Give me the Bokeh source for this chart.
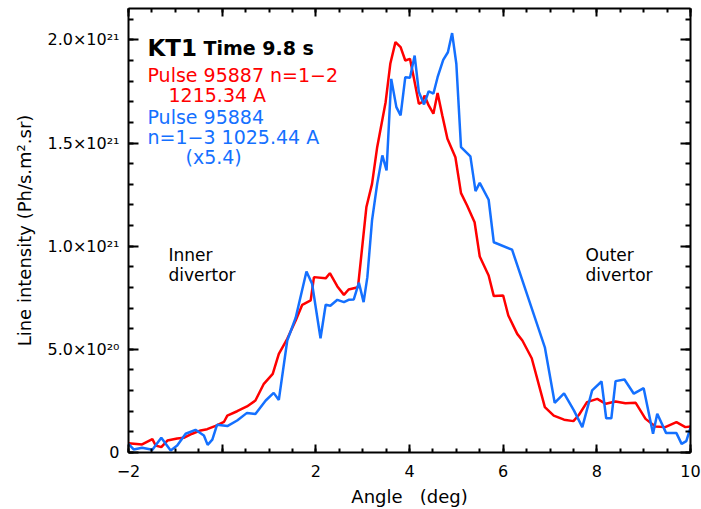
import numpy as np
from bokeh.plotting import figure
from bokeh.models import Range1d, FixedTicker, LinearAxis, Label, ColumnDataSource
from bokeh.embed import file_html
from bokeh.resources import INLINE

# ---- data (angle in deg, intensity in units of 1e21 Ph/s.m2.sr) ----
angle_red = [-2.00, -1.71, -1.49, -1.42, -1.30, -1.17, -0.96, -0.82, -0.64, -0.46,
             -0.32, -0.14, 0.04, 0.11, 0.32, 0.53, 0.71, 0.89, 1.08, 1.21,
             1.39, 1.57, 1.71, 1.89, 1.96, 2.21, 2.30, 2.46, 2.60, 2.70,
             2.90, 3.08, 3.20, 3.31, 3.49, 3.59, 3.70, 3.81, 3.91, 4.01,
             4.09, 4.20, 4.27, 4.32, 4.41, 4.51, 4.60, 4.70, 4.81, 4.98,
             5.10, 5.23, 5.39, 5.50, 5.69, 5.80, 6.00, 6.11, 6.30, 6.41,
             6.61, 6.89, 7.08, 7.30, 7.50, 7.62, 7.79, 8.01, 8.19, 8.40,
             8.61, 8.83, 9.04, 9.25, 9.46, 9.70, 9.89, 10.0]
intensity_red = [0.045, 0.039, 0.065, 0.034, 0.026, 0.058, 0.068, 0.071, 0.091, 0.107,
                 0.113, 0.129, 0.149, 0.179, 0.200, 0.223, 0.252, 0.333, 0.381, 0.478,
                 0.551, 0.640, 0.716, 0.737, 0.850, 0.844, 0.869, 0.805, 0.764, 0.790,
                 0.801, 1.190, 1.302, 1.480, 1.698, 1.884, 1.989, 1.965, 1.900, 1.908,
                 1.819, 1.690, 1.698, 1.730, 1.682, 1.642, 1.742, 1.634, 1.521, 1.431,
                 1.257, 1.197, 1.116, 0.950, 0.858, 0.758, 0.761, 0.664, 0.575, 0.543,
                 0.457, 0.220, 0.179, 0.159, 0.152, 0.183, 0.244, 0.260, 0.236, 0.247,
                 0.239, 0.241, 0.163, 0.126, 0.123, 0.147, 0.123, 0.126]

angle_blue = [-2.00, -1.89, -1.71, -1.49, -1.30, -1.10, -0.96, -0.78, -0.57, -0.39,
              -0.31, -0.21, -0.11, 0.11, 0.32, 0.53, 0.71, 0.93, 1.10, 1.21,
              1.39, 1.57, 1.80, 1.92, 2.10, 2.21, 2.31, 2.46, 2.60, 2.70,
              2.81, 2.92, 3.02, 3.10, 3.20, 3.31, 3.42, 3.51, 3.61, 3.72,
              3.81, 3.91, 4.01, 4.11, 4.20, 4.31, 4.41, 4.51, 4.60, 4.72,
              4.82, 4.91, 5.00, 5.10, 5.30, 5.41, 5.50, 5.69, 5.80, 6.19,
              6.89, 7.10, 7.30, 7.51, 7.69, 7.90, 8.10, 8.20, 8.31, 8.40,
              8.59, 8.79, 9.00, 9.20, 9.29, 9.48, 9.70, 9.81, 9.91, 10.0]
intensity_blue = [0.042, 0.015, 0.023, 0.013, 0.071, 0.010, 0.034, 0.091, 0.110, 0.082,
                  0.037, 0.062, 0.134, 0.128, 0.155, 0.192, 0.187, 0.252, 0.289, 0.255,
                  0.543, 0.653, 0.877, 0.818, 0.554, 0.716, 0.711, 0.740, 0.729, 0.740,
                  0.742, 0.823, 0.729, 0.850, 1.125, 1.302, 1.440, 1.367, 1.811, 1.674,
                  1.634, 1.819, 1.816, 1.924, 1.747, 1.687, 1.751, 1.739, 1.819, 1.903,
                  1.940, 2.033, 1.884, 1.480, 1.435, 1.267, 1.307, 1.225, 1.019, 0.983,
                  0.510, 0.241, 0.287, 0.204, 0.123, 0.301, 0.344, 0.166, 0.166, 0.346,
                  0.354, 0.285, 0.312, 0.091, 0.188, 0.094, 0.094, 0.042, 0.055, 0.120]

x_ticks = [-2, 0, 2, 4, 6, 8, 10]
x_tick_labels = ["\u22122", "", "2", "4", "6", "8", "10"]
y_ticks = [0.0, 5e20, 1e21, 1.5e21, 2e21]
y_tick_labels = ["0", "5.0\u00d710\u00b2\u2070", "1.0\u00d710\u00b2\u00b9",
                 "1.5\u00d710\u00b2\u00b9", "2.0\u00d710\u00b2\u00b9"]

SCALE = 1e21
RED = "#FF0000"
BLUE = "#1470FF"
FONT = "DejaVu Sans"

src_red = ColumnDataSource(dict(x=angle_red, y=[v * SCALE for v in intensity_red]))
src_blue = ColumnDataSource(dict(x=angle_blue, y=[v * SCALE for v in intensity_blue]))

p = figure(width=701, height=509, output_backend="svg", toolbar_location=None,
           x_range=Range1d(-2, 10), y_range=Range1d(0, 2.152e21),
           x_axis_type=None, y_axis_type=None,
           min_border_left=128, min_border_right=11, min_border_top=8, min_border_bottom=57)
p.outline_line_color = None
p.grid.visible = False
p.background_fill_color = "white"
p.border_fill_color = "white"

x_minor = list(np.arange(-2, 10.001, 0.5))
y_minor = list(np.arange(0, 2.15e21, 1e20))


def make_axis(ticks, minor, labels, major_in, minor_in, show_labels):
    ax = LinearAxis(ticker=FixedTicker(ticks=ticks, minor_ticks=minor))
    ax.axis_line_width = 2
    ax.axis_line_color = "black"
    ax.major_tick_in = major_in
    ax.major_tick_out = 0
    ax.minor_tick_in = minor_in
    ax.minor_tick_out = 0
    ax.major_tick_line_width = 2
    ax.minor_tick_line_width = 2
    ax.major_tick_line_color = "black"
    ax.minor_tick_line_color = "black"
    if show_labels:
        ax.major_label_overrides = {t: l for t, l in zip(ticks, labels)}
        ax.major_label_text_font = FONT
        ax.major_label_text_font_size = "16px"
        ax.major_label_text_color = "black"
    else:
        ax.major_label_overrides = {t: "" for t in ticks}
        ax.major_label_text_font_size = "0px"
        ax.major_label_standoff = 0
    return ax


bottom = make_axis(x_ticks, x_minor, x_tick_labels, 8, 4, True)
bottom.major_label_standoff = 12
bottom.axis_label = "Angle\u00a0\u00a0 (deg)"
bottom.axis_label_text_font = FONT
bottom.axis_label_text_font_size = "18px"
bottom.axis_label_text_font_style = "normal"
bottom.axis_label_text_color = "black"
bottom.axis_label_standoff = 6
p.add_layout(bottom, "below")

top = make_axis(x_ticks, x_minor, x_tick_labels, 8, 4, False)
p.add_layout(top, "above")

left = make_axis(y_ticks, y_minor, y_tick_labels, 10, 5, True)
left.major_label_standoff = 9
left.axis_label = "Line intensity (Ph/s.m\u00b2.sr)"
left.axis_label_text_font = FONT
left.axis_label_text_font_size = "18px"
left.axis_label_text_font_style = "normal"
left.axis_label_text_color = "black"
left.axis_label_standoff = 9
p.add_layout(left, "left")

right = make_axis(y_ticks, y_minor, y_tick_labels, 10, 5, False)
p.add_layout(right, "right")

p.line("x", "y", source=src_red, line_color=RED, line_width=2.5)
p.line("x", "y", source=src_blue, line_color=BLUE, line_width=2.5)


def px2x(px):
    return (px - 128) / 46.833 - 2


def py2y(py):
    return (452 - py) / 206.3 * SCALE


def add_text(px, py, text, color="black", size="19px", bold=False):
    p.add_layout(Label(x=px2x(px), y=py2y(py), text=text, text_color=color,
                       text_font=FONT, text_font_size=size,
                       text_font_style="bold" if bold else "normal",
                       text_baseline="alphabetic", text_align="left"))


add_text(147, 48, "KT1", size="23px", bold=True)
add_text(203, 48, "Time 9.8 s", size="19px", bold=True)
add_text(147, 75, "Pulse 95887 n=1\u22122", color=RED)
add_text(168, 95, "1215.34 A", color=RED)
add_text(147, 117, "Pulse 95884", color=BLUE)
add_text(147, 137, "n=1\u22123 1025.44 A", color=BLUE)
add_text(185, 157, "(x5.4)", color=BLUE)
add_text(168, 255, "Inner", size="17px")
add_text(168, 275, "divertor", size="17px")
add_text(585, 255, "Outer", size="17px")
add_text(585, 275, "divertor", size="17px")

open("out.html", "w").write(file_html(p, INLINE))
